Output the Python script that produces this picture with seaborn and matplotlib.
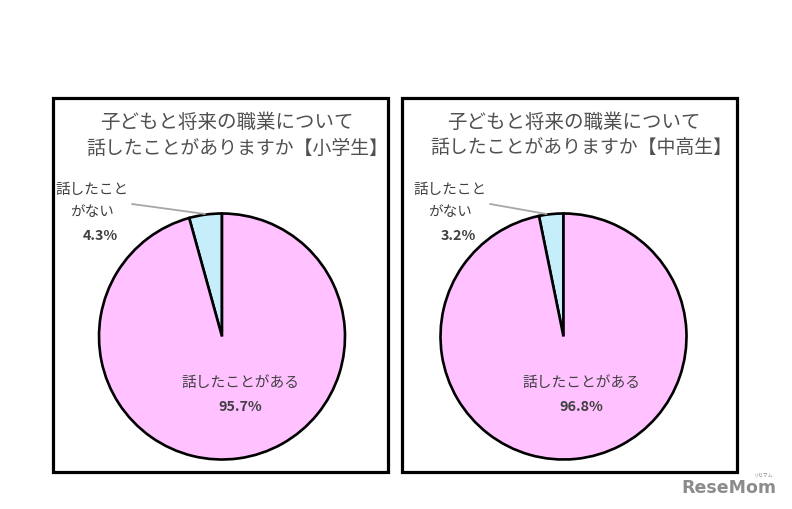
import matplotlib
matplotlib.use('Agg')
import matplotlib.pyplot as plt
from matplotlib.patches import Rectangle
import seaborn as sns

# data
GROUPS = ['小学生', '中高生']
SLICE_LABELS = ['話したこと\nがない', '話したことがある']
PCT_NO = [4.3, 3.2]
PCT_YES = [95.7, 96.8]
TITLE_LINE1 = '子どもと将来の職業について'
TITLE_LINE2 = '話したことがありますか【{}】'

COLORS = {'no': '#C6EDFA', 'yes': '#FFC1FF', 'text': '#404040',
          'title': '#505050', 'leader': '#A6A6A6', 'logo': '#8C8C8C'}

W, H = 792, 509

sns.set_theme(style='white')
plt.rcParams['font.family'] = ['Noto Sans CJK JP', 'DejaVu Sans']

fig = plt.figure(figsize=(W / 100, H / 100), dpi=100)
ax = fig.add_axes([0, 0, 1, 1])

# panel layout in pixels
panels = [
    {'box': 53, 'cx': 222, 't1': 227, 't2': 237, 'small_x': 92},
    {'box': 402, 'cx': 563.5, 't1': 574, 't2': 581, 'small_x': 450},
]
cy = H - 336.5
radius = 123

for i, p in enumerate(panels):
    ax.add_patch(Rectangle((p['box'], H - 472), 335, 374, fill=False,
                           edgecolor='black', linewidth=2.3, zorder=1))

    ax.pie([PCT_NO[i], PCT_YES[i]], startangle=90, counterclock=True,
           colors=[COLORS['no'], COLORS['yes']], center=(p['cx'], cy), radius=radius,
           wedgeprops=dict(edgecolor='black', linewidth=1.9))

    ax.text(p['t1'], H - 122, TITLE_LINE1, ha='center', va='center',
            fontsize=14.0, color=COLORS['title'])
    ax.text(p['t2'], H - 148, TITLE_LINE2.format(GROUPS[i]), ha='center', va='center',
            fontsize=13.6, color=COLORS['title'])

    # small slice label + leader
    ax.text(p['small_x'], H - 201, SLICE_LABELS[0], ha='center', va='center',
            fontsize=10.5, color=COLORS['text'], linespacing=1.65)
    ax.text(p['small_x'] + 8, H - 236, f'{PCT_NO[i]}%', ha='center', va='center',
            fontsize=10.3, color=COLORS['text'], fontweight='bold')
    ax.plot([p['small_x'] + 40, p['cx'] - 17], [H - 204, H - 214],
            color=COLORS['leader'], linewidth=1.3)

    # big slice label
    ax.text(p['cx'] + 18, H - 383, SLICE_LABELS[1], ha='center', va='center',
            fontsize=10.6, color=COLORS['text'])
    ax.text(p['cx'] + 18, H - 407, f'{PCT_YES[i]}%', ha='center', va='center',
            fontsize=10.3, color=COLORS['text'], fontweight='bold')

# logo
ax.text(729, H - 488, 'ReseMom', ha='center', va='center', fontsize=12.5,
        fontweight='bold', color=COLORS['logo'], family='DejaVu Sans')
ax.text(764, H - 475, 'リセマム', ha='center', va='center', fontsize=3.5,
        color=COLORS['logo'])

ax.set_xlim(0, W)
ax.set_ylim(0, H)
ax.set_aspect('equal')
ax.axis('off')

fig.savefig('out.png', dpi=100, facecolor='white')
